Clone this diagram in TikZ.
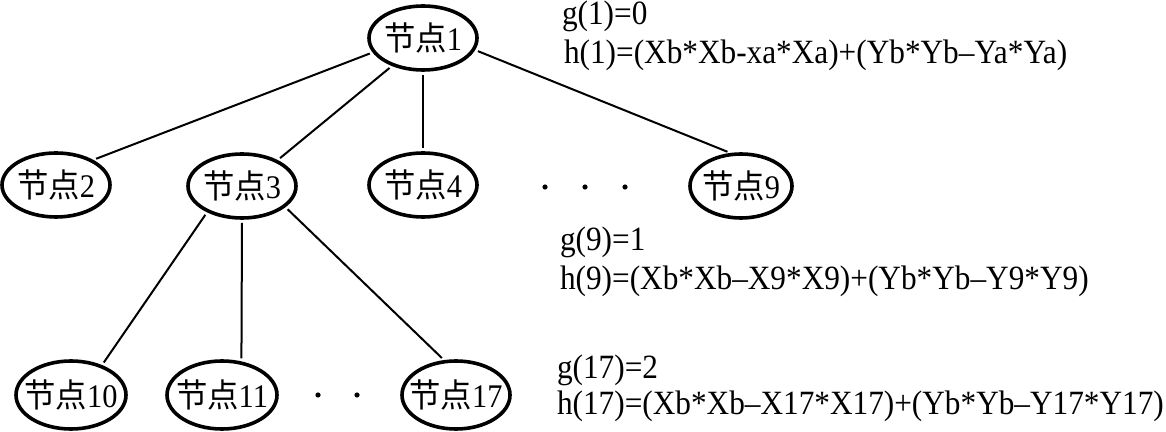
\documentclass[tikz,border=0pt]{standalone}
\usepackage{fontspec}
\setmainfont[FakeStretch=0.92]{Liberation Serif}
\newfontfamily\cjk[FakeStretch=0.95]{Noto Sans CJK SC}
\usepackage{tikz}
\usetikzlibrary{shapes, positioning}

\newcommand{\jiedian}[1]{{\cjk 节点}#1}

\begin{document}
\begin{tikzpicture}[x=0.5pt, y=-0.5pt, line width=1pt,
    treenode/.style={draw, ellipse, line width=1.8pt, inner xsep=-8pt, inner ysep=-2pt,
        minimum width=54pt, minimum height=32pt, font=\fontsize{16.5}{18}\selectfont},
    formula/.style={anchor=base west, inner sep=0pt, font=\fontsize{17}{19}\selectfont},
    dotmark/.style={circle, fill, inner sep=0pt, minimum size=2.6pt},
    edge/.style={shorten <=1.5pt, shorten >=1.5pt}]
    \useasboundingbox (0,0) rectangle (1166,432);

    % Tree nodes
    \node[treenode] (n1) at (423,38) {\jiedian{1}};
    \node[treenode] (n2) at (56,185) {\jiedian{2}};
    \node[treenode] (n3) at (242,186) {\jiedian{3}};
    \node[treenode] (n4) at (423,185) {\jiedian{4}};
    \node[treenode, minimum width=51pt] (n9) at (741,186) {\jiedian{9}};
    \node[treenode, minimum height=34pt, minimum width=55pt] (n10) at (71,395) {\jiedian{10}};
    \node[treenode, minimum height=34pt, minimum width=55pt] (n11) at (222,395) {\jiedian{11}};
    \node[treenode, minimum height=34pt, minimum width=54pt] (n17) at (456,395) {\jiedian{17}};

    % Dots
    \node[dotmark] (d1) at (545,187) {};
    \node[dotmark] (d2) at (585,187) {};
    \node[dotmark] (d3) at (625,187) {};
    \node[dotmark] (d4) at (318,395) {};
    \node[dotmark] (d5) at (357,395) {};

    % Edges
    \draw[edge] (n1.196) -- (n2.34);
    \draw[edge] (n1.222) -- (n3.36);
    \draw[edge] (n1.south) -- (n4.north);
    \draw[edge] (n1.347) -- (n9.108);
    \draw[edge] (n3.217) -- (n10.44);
    \draw[edge] (n3.south) -- (n11.60);
    \draw[edge] (n3.334) -- (n17.109);

    % Formulas
    \node[formula] (g1) at (561,25) {g(1)=0};
    \node[formula] (h1) at (563,64) {h(1)=(Xb*Xb-xa*Xa)+(Yb*Yb–Ya*Ya)};
    \node[formula] (g9) at (559,251) {g(9)=1};
    \node[formula] (h9) at (559,290) {h(9)=(Xb*Xb–X9*X9)+(Yb*Yb–Y9*Y9)};
    \node[formula] (g17) at (556,379) {g(17)=2};
    \node[formula] (h17) at (556,414) {h(17)=(Xb*Xb–X17*X17)+(Yb*Yb–Y17*Y17)};
\end{tikzpicture}
\end{document}
